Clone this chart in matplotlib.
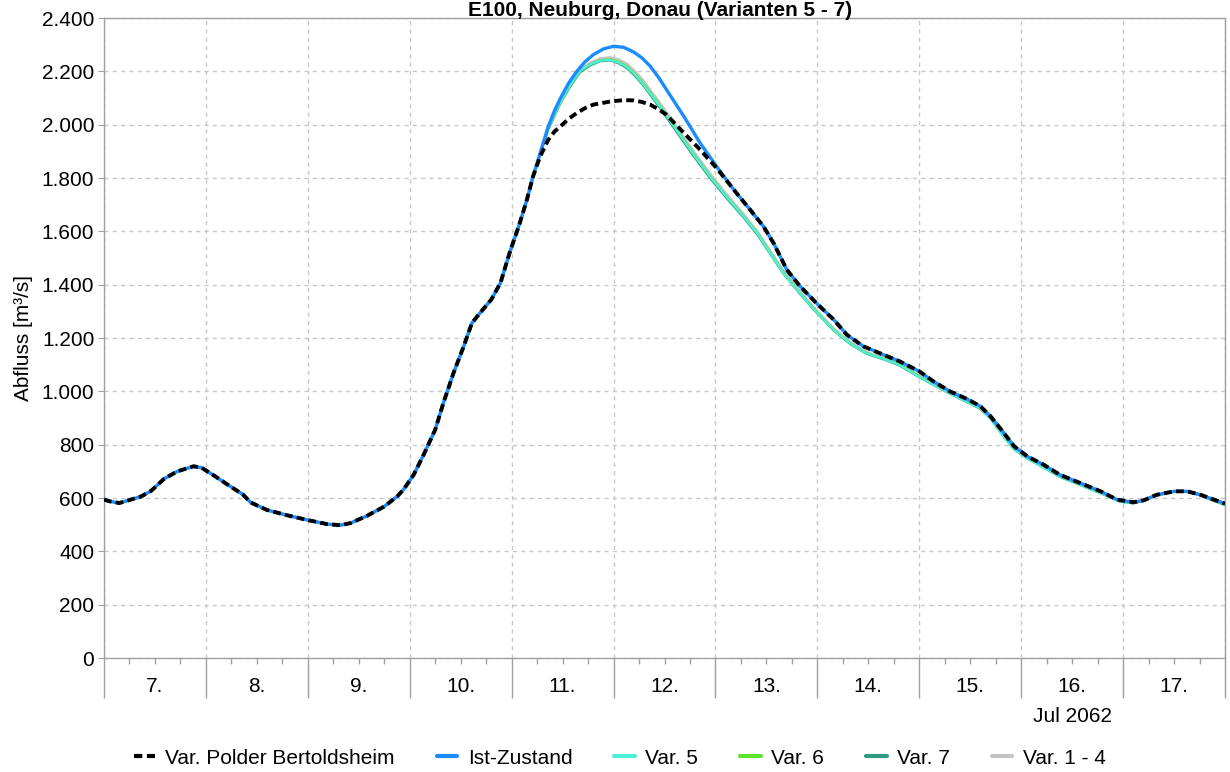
import numpy as np
import matplotlib
matplotlib.use("Agg")
import matplotlib.pyplot as plt
from matplotlib.ticker import FuncFormatter, MultipleLocator

# ---------------- data (days since 7 Jul 2062 00:00, discharge m³/s) ----------------
day_labels = ["7.", "8.", "9.", "10.", "11.", "12.", "13.", "14.", "15.", "16.", "17."]
month_label = "Jul 2062"
title = "E100, Neuburg, Donau (Varianten 5 - 7)"
y_label = "Abfluss [m³/s]"

t_common = [0.00, 0.05, 0.15, 0.36, 0.46, 0.59, 0.72, 0.88, 0.96, 1.08, 1.21, 1.36, 1.44,
            1.60, 1.80, 1.99, 2.19, 2.32, 2.42, 2.58, 2.75, 2.88, 2.94, 3.04, 3.14, 3.25,
            3.33, 3.43, 3.53, 3.61, 3.69, 3.80, 3.89, 3.98, 4.08, 4.15, 4.21]
q_common = [594, 588, 581, 605, 626, 672, 700, 719, 713, 684, 651, 614, 583,
            555, 535, 518, 502, 498, 506, 533, 568, 607, 632, 688, 765, 856,
            956, 1069, 1169, 1256, 1294, 1344, 1406, 1519, 1631, 1719, 1806]

t_ist = [4.28, 4.36, 4.42, 4.48, 4.56, 4.64, 4.72, 4.80, 4.90, 5.00, 5.10, 5.20, 5.28,
         5.36, 5.44, 5.52, 5.69, 5.85,
         6.01, 6.18, 6.34, 6.47, 6.57, 6.70, 6.83, 6.99, 7.16, 7.29, 7.45, 7.65, 7.81,
         8.00, 8.14, 8.30, 8.47, 8.60, 8.70, 8.83, 8.93, 9.06, 9.22, 9.38, 9.58, 9.78,
         9.94, 10.10, 10.20, 10.33, 10.50, 10.63, 10.76, 10.89, 11.00]
q_ist = [1894, 1994, 2052, 2100, 2156, 2200, 2236, 2262, 2284, 2294, 2290, 2272, 2250,
         2219, 2178, 2131, 2031, 1931,
         1844, 1756, 1681, 1619, 1556, 1456, 1394, 1331, 1269, 1212, 1169, 1137, 1112,
         1075, 1037, 1000, 971, 944, 906, 844, 794, 756, 725, 687, 656, 625,
         594, 584, 591, 612, 625, 625, 612, 594, 579]

t_polder = [4.28, 4.36, 4.42, 4.48, 4.56, 4.64, 4.72, 4.80, 4.97, 5.10, 5.20, 5.28, 5.36,
            5.44, 5.52, 5.69, 5.85, 6.01,
            6.10, 6.18, 6.34, 6.47, 6.57, 6.70, 6.83, 6.99, 7.16, 7.29, 7.45, 7.65, 7.81,
            8.00, 8.14, 8.30, 8.47, 8.60, 8.70, 8.83, 8.93, 9.06, 9.22, 9.38, 9.58, 9.78,
            9.94, 10.10, 10.20, 10.33, 10.50, 10.63, 10.76, 10.89, 11.00]
q_polder = [1881, 1944, 1974, 1994, 2022, 2044, 2062, 2075, 2087, 2092, 2091, 2085, 2075,
            2058, 2037, 1969, 1906, 1838,
            1795, 1756, 1681, 1619, 1556, 1456, 1394, 1331, 1269, 1212, 1169, 1137, 1112,
            1075, 1037, 1000, 971, 944, 906, 844, 794, 756, 725, 687, 656, 625,
            594, 584, 591, 612, 625, 625, 612, 594, 579]

t_var = [4.28, 4.36, 4.48, 4.58, 4.67, 4.77, 4.87, 4.97, 5.05, 5.13, 5.21, 5.29, 5.46,
         5.62, 5.78, 5.95, 6.11,
         6.28, 6.41, 6.54, 6.67, 6.83, 6.99, 7.16, 7.32, 7.48, 7.68, 7.81, 8.00, 8.27,
         8.60, 8.70, 8.83, 8.93, 9.06, 9.38, 9.78, 9.97, 10.10, 10.20, 10.33, 10.50,
         10.63, 10.76, 10.89, 11.00]
q_var5 = [1892, 1988, 2088, 2152, 2202, 2226, 2240, 2243, 2233, 2216, 2188, 2152, 2066,
          1978, 1891, 1803, 1729,
          1654, 1592, 1517, 1442, 1367, 1298, 1230, 1180, 1143, 1118, 1098, 1054, 998,
          935, 898, 829, 782, 748, 680, 618, 586, 580, 589, 611, 624, 624, 611, 590, 575]
q_var6 = [1890, 1985, 2085, 2150, 2200, 2226, 2242, 2245, 2236, 2219, 2191, 2156, 2069,
          1981, 1894, 1806, 1731,
          1656, 1594, 1519, 1444, 1369, 1300, 1231, 1181, 1144, 1119, 1100, 1056, 1000,
          937, 900, 831, 784, 750, 681, 619, 587, 581, 590, 611, 624, 624, 611, 590, 574]
q_var7 = [1888, 1982, 2082, 2146, 2196, 2222, 2238, 2241, 2230, 2212, 2183, 2148, 2060,
          1972, 1885, 1798, 1724,
          1650, 1588, 1514, 1440, 1365, 1296, 1228, 1178, 1141, 1116, 1096, 1053, 997,
          934, 897, 829, 782, 748, 679, 618, 586, 580, 589, 610, 623, 623, 610, 589, 574]
q_var14 = [1892, 1990, 2092, 2156, 2206, 2232, 2248, 2252, 2244, 2228, 2200, 2166, 2078,
           1990, 1902, 1814, 1738,
           1662, 1600, 1525, 1450, 1374, 1304, 1235, 1185, 1147, 1122, 1103, 1059, 1003,
           940, 903, 835, 787, 752, 683, 621, 589, 582, 591, 612, 625, 625, 612, 591, 576]

# ---------------- styling ----------------
plt.rcParams['font.family'] = ['Liberation Sans', 'DejaVu Sans']
GRID = '#c8c8c8'
AXC = '#a0a0a0'
FS = 15

fig = plt.figure(figsize=(12.3, 7.72), dpi=100)
L, R, T, B = 104, 1225, 18, 658
ax = fig.add_axes([L / 1230, 1 - B / 772, (R - L) / 1230, (B - T) / 772])

def series(t_tail, q_tail):
    return np.array(t_common + t_tail), np.array(q_common + q_tail)

x14, y14 = series(t_var, q_var14)
x7, y7 = series(t_var, q_var7)
x6, y6 = series(t_var, q_var6)
x5, y5 = series(t_var, q_var5)
xi, yi = series(t_ist, q_ist)
xp, yp = series(t_polder, q_polder)

kw = dict(solid_joinstyle='round', solid_capstyle='round')
l14, = ax.plot(x14, y14, color='#c4c4c4', lw=2.0, label='Var. 1 - 4', zorder=3, **kw)
l7, = ax.plot(x7, y7, color='#2f9c80', lw=1.6, label='Var. 7', zorder=4, **kw)
l6, = ax.plot(x6, y6, color='#5ee22e', lw=1.6, label='Var. 6', zorder=5, **kw)
l5, = ax.plot(x5, y5, color='#4df0d8', lw=1.6, label='Var. 5', zorder=6, **kw)
li, = ax.plot(xi, yi, color='#1a8cff', lw=2.4, label='Ist-Zustand', zorder=7, **kw)
lp, = ax.plot(xp, yp, color='black', lw=2.8, ls=(0, (2.0, 1.1)), dash_capstyle='butt',
              label='Var. Polder Bertoldsheim', zorder=8)

ax.set_xlim(0, 11)
ax.set_ylim(0, 2400)
ax.yaxis.set_major_locator(MultipleLocator(200))
ax.yaxis.set_major_formatter(FuncFormatter(lambda v, p: f"{v:,.0f}".replace(',', '.')))
ax.xaxis.set_major_locator(MultipleLocator(1))
ax.xaxis.set_minor_locator(MultipleLocator(0.25))
ax.xaxis.set_major_formatter(FuncFormatter(lambda v, p: ''))

ax.grid(True, which='major', color=GRID, ls=(0, (3, 3)), lw=1.0)
for s in ax.spines.values():
    s.set_color(AXC)
    s.set_linewidth(1.0)

ax.tick_params(axis='y', which='major', length=4, color=AXC, labelsize=FS, pad=3)
ax.tick_params(axis='x', which='major', length=29, color=AXC, width=1.0)
ax.tick_params(axis='x', which='minor', length=4, color=AXC, width=1.0)

tr = ax.get_xaxis_transform()
for i, lab in enumerate(day_labels):
    ax.text(i + 0.5, -28 / 640, lab, transform=tr, ha='center', va='center', fontsize=FS)
ax.text(9.5, -59 / 640, month_label, transform=tr, ha='center', va='center', fontsize=FS)

ax.set_ylabel(y_label, fontsize=FS, labelpad=6)

fig.text(0.537, 1 - 15.5 / 772, title, ha='center', va='baseline', fontsize=15,
         fontweight='bold')

handles = [lp, li, l5, l6, l7, l14]
leg = fig.legend(handles=handles, labels=[h.get_label() for h in handles],
                 loc='center', bbox_to_anchor=(0.504, 1 - 758 / 772), ncol=6, frameon=False,
                 fontsize=FS, handlelength=1.0, handletextpad=0.5, columnspacing=2.0)
for h in leg.legend_handles:
    h.set_linewidth(3)

fig.savefig('out.png', dpi=100)
